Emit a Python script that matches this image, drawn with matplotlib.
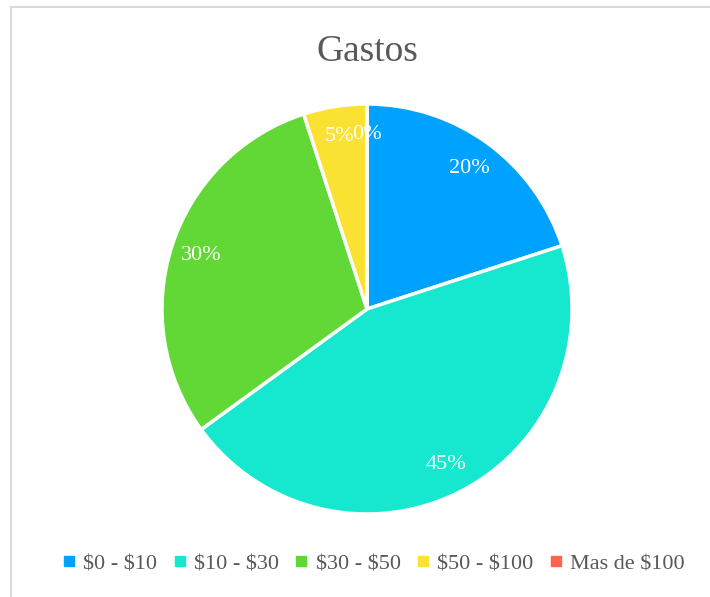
import matplotlib.pyplot as plt
from matplotlib.lines import Line2D
from matplotlib.patches import Rectangle

categories = ['$0 - $10', '$10 - $30', '$30 - $50', '$50 - $100', 'Mas de $100']
values = [20, 45, 30, 5, 0]
colors = ['#00A2FF', '#16E7CF', '#61D836', '#FAE232', '#FF644E']

plt.rcParams['font.family'] = ['Liberation Serif', 'DejaVu Serif']
plt.rcParams['text.parse_math'] = False

fig = plt.figure(figsize=(7.10, 5.97), dpi=100)
W, H = 710, 597

# light frame around the chart area
fig.patches.append(Rectangle((11 / W, -0.1), 1.2, 1 - 7 / H + 0.1,
                             transform=fig.transFigure, fill=False,
                             edgecolor='#d9d9d9', linewidth=1.5))

cx, cy, r = 367, 309, 205
ax = fig.add_axes([(cx - r) / W, (H - cy - r) / H, 2 * r / W, 2 * r / H])
wedges, texts, autotexts = ax.pie(
    values, colors=colors, startangle=90, counterclock=False,
    autopct=lambda p: f'{p:.0f}%', pctdistance=0.85,
    wedgeprops=dict(edgecolor='white', linewidth=2.5),
    textprops=dict(color='white', fontsize=16), radius=1.0)
ax.set_xlim(-1.0, 1.0)
ax.set_ylim(-1.0, 1.0)
ax.set_aspect('equal')

fig.text(cx / W, 1 - 52 / H, 'Gastos', ha='center', va='center',
         fontsize=27, color='#595959')

handles = [Line2D([], [], marker='s', linestyle='none', markersize=7,
                  markerfacecolor=c, markeredgecolor=c) for c in colors]
fig.legend(handles, categories, loc='center', bbox_to_anchor=(373 / W, 1 - 564 / H),
           ncol=5, frameon=False, fontsize=16, handletextpad=0.3,
           columnspacing=0.65, labelcolor='#595959', handlelength=0.7)

fig.savefig('out.png', dpi=100)
